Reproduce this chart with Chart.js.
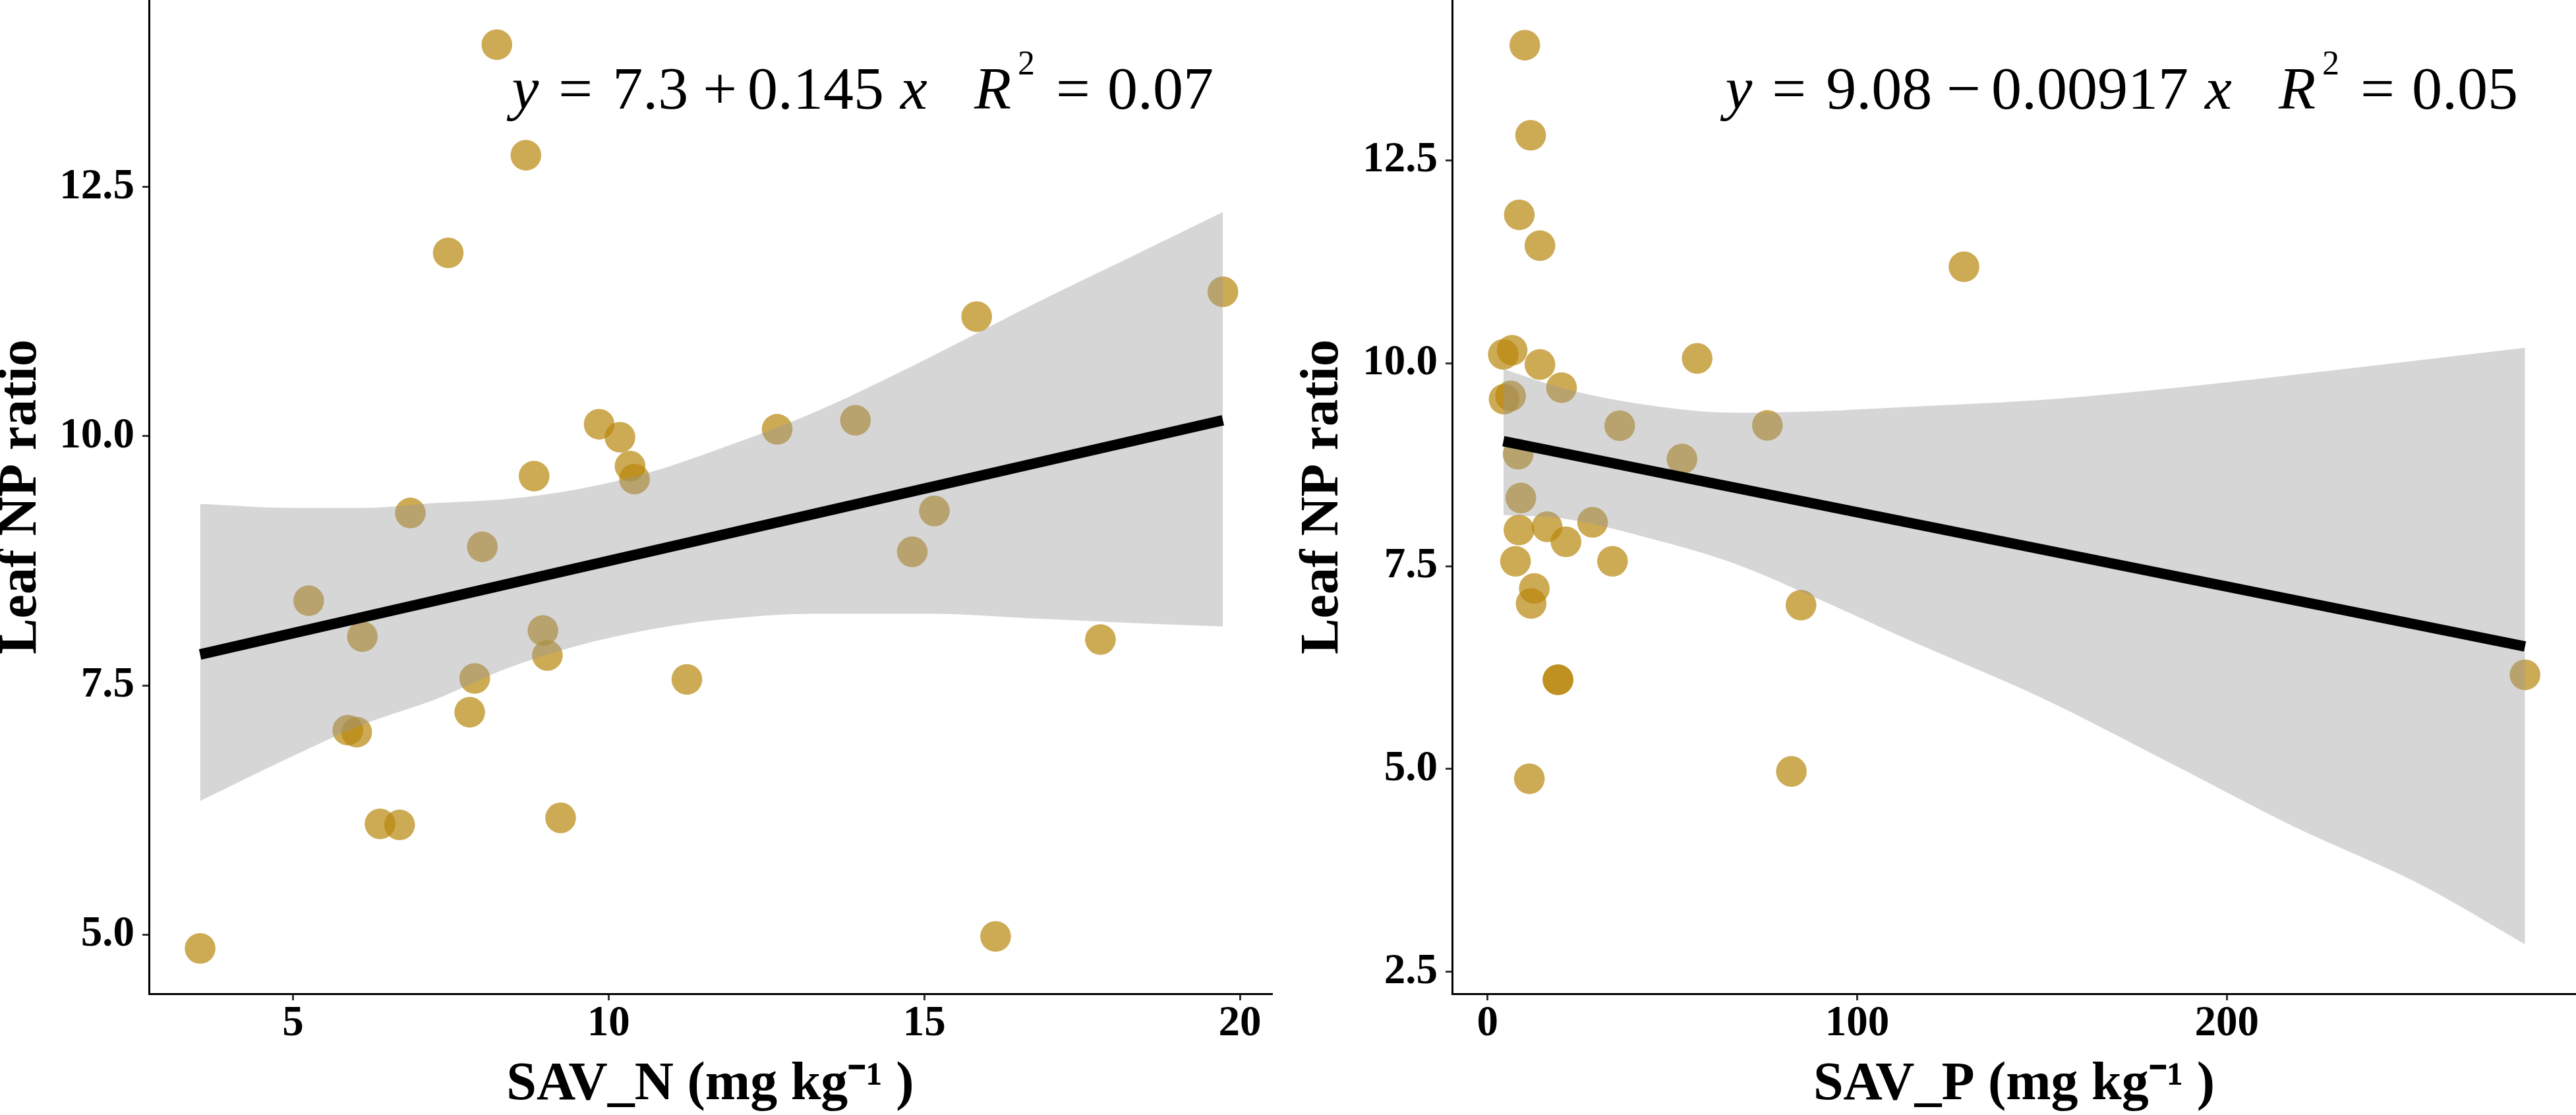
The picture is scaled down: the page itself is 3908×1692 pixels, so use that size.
<!DOCTYPE html>
<html>
<head>
<meta charset="utf-8">
<script src="https://cdn.jsdelivr.net/npm/chart.js@4.4.1/dist/chart.umd.min.js"></script>
<style>
  html, body { margin: 0; padding: 0; background: #fff; }
  #wrap { position: relative; width: 3908px; height: 1692px; }
  canvas { position: absolute; top: 0; }
  #grafico_n { left: 0; }
  #grafico_p { left: 1954px; }
</style>
</head>
<body>
<div id="wrap">
  <canvas id="grafico_n" width="1954" height="1692"></canvas>
  <canvas id="grafico_p" width="1954" height="1692"></canvas>
</div>
<script>
// panel izquierdo: SAV_N vs Leaf NP
const savN = [3.53, 5.25, 5.87, 6.01, 6.10, 6.38, 6.69, 6.86, 7.46, 7.80, 7.88, 8.00, 8.23, 8.69, 8.82, 8.96,
              9.03, 9.24, 9.85, 10.18, 10.34, 10.41, 11.24, 12.67, 13.91, 14.81, 15.16, 15.83, 16.13, 17.79, 19.73]
const npN  = [4.86, 8.35, 7.05, 7.03, 7.99, 6.11, 6.10, 9.23, 11.84, 7.23, 7.57, 8.89, 13.93, 12.82, 9.60, 8.05,
              7.80, 6.17, 10.12, 9.99, 9.70, 9.57, 7.56, 10.07, 10.16, 8.84, 9.25, 11.20, 4.98, 7.96, 11.45]
// banda de confianza
const bandaXN   = [3.53, 5.0, 6.12, 7.26, 8.39, 9.52, 10.66, 11.61, 13.33, 15.05, 16.78, 18.5, 19.73]
const bandaSupN = [9.32, 9.28, 9.28, 9.33, 9.37, 9.47, 9.64, 9.84, 10.26, 10.78, 11.34, 11.87, 12.25]
const bandaInfN = [6.34, 6.79, 7.11, 7.36, 7.67, 7.90, 8.06, 8.15, 8.22, 8.22, 8.17, 8.12, 8.09]
const rectaXN = [3.53, 19.73]
const rectaYN = [7.81, 10.16]
const ticksXN = [5, 10, 15, 20]
const ticksYN = [5.0, 7.5, 10.0, 12.5]

// panel derecho: SAV_P vs Leaf NP
const savP = [10.07, 11.64, 8.57, 14.16, 56.7, 4.25, 6.64, 14.16, 20.0, 4.46, 6.23, 35.75, 75.7, 8.27, 52.6, 9.0,
              8.48, 16.1, 21.2, 28.4, 7.54, 33.8, 12.64, 11.77, 84.8, 19.05, 19.05, 11.3, 82.2, 128.9, 280.7]
const npP  = [13.92, 12.81, 11.83, 11.45, 10.06, 10.11, 10.16, 9.985, 9.70, 9.557, 9.597, 9.23, 9.235, 8.88, 8.82, 8.34,
              7.945, 7.985, 7.80, 8.04, 7.56, 7.56, 7.225, 7.04, 7.02, 6.10, 6.10, 4.88, 4.97, 11.19, 6.16]
const bandaXP   = [4.27, 21.4, 44.1, 66.9, 89.7, 112.5, 150.2, 184.4, 218.6, 252.7, 280.7]
const bandaSupP = [9.93, 9.68, 9.48, 9.39, 9.41, 9.46, 9.55, 9.69, 9.86, 10.04, 10.19]
const bandaInfP = [8.13, 8.08, 7.84, 7.53, 7.09, 6.62, 5.87, 5.08, 4.28, 3.57, 2.84]
const rectaXP = [4.27, 280.7]
const rectaYP = [9.04, 6.51]
const ticksXP = [0, 100, 200]
const ticksYP = [2.5, 5.0, 7.5, 10.0, 12.5]

const ecuacionN = [{t: 'y', it: true}, {t: '='}, {t: '7.3'}, {t: '+'}, {t: '0.145'}, {t: 'x', it: true},
                   {t: 'R', it: true}, {t: '2', sup: true}, {t: '='}, {t: '0.07'}]
const ecuacionP = [{t: 'y', it: true}, {t: '='}, {t: '9.08'}, {t: '\u2212'}, {t: '0.00917'}, {t: 'x', it: true},
                   {t: 'R', it: true}, {t: '2', sup: true}, {t: '='}, {t: '0.05'}]

const FUENTE = 'Liberation Serif'

// texto de la ecuacion arriba a la derecha
const pluginEcuacion = {
    id: 'ecuacion',
    afterDraw(chart, args, opts) {
        const c = chart.ctx
        const area = chart.chartArea
        const huecos = [30, 30, 22, 16, 25, 71, 10, 32, 26]
        const fuente = p => (p.it ? 'italic ' : '') + (p.sup ? 52 : 92) + 'px "' + FUENTE + '"'
        c.save()
        c.fillStyle = '#000'
        c.textAlign = 'left'
        c.textBaseline = 'alphabetic'
        let total = 0
        opts.piezas.forEach((p, i) => {
            c.font = fuente(p)
            total += c.measureText(p.t).width + (i ? huecos[i - 1] : 0)
        })
        let x = area.right - 88 - total
        const base = area.top + 165
        opts.piezas.forEach((p, i) => {
            if (i) x += huecos[i - 1]
            c.font = fuente(p)
            c.fillText(p.t, x, p.sup ? base - 52 : base)
            x += c.measureText(p.t).width
        })
        c.restore()
    }
}

graficoDispersion('grafico_n', savN, npN, bandaXN, bandaSupN, bandaInfN, rectaXN, rectaYN,
    {xmin: 2.72, xmax: 20.5, ymin: 4.405, ymax: 14.378, ticksX: ticksXN, ticksY: ticksYN,
     tituloX: 'SAV_N (mg kg\u207B\u00B9 )', anchoY: 226, padDer: 25, padTitulo: 2, ecuacion: ecuacionN})

graficoDispersion('grafico_p', savP, npP, bandaXP, bandaSupP, bandaInfP, rectaXP, rectaYP,
    {xmin: -9.6, xmax: 294.5, ymin: 2.23, ymax: 14.477, ticksX: ticksXP, ticksY: ticksYP,
     tituloX: 'SAV_P (mg kg\u207B\u00B9 )', anchoY: 249, padDer: 0, padTitulo: 23.5, ecuacion: ecuacionP})

function graficoDispersion(id, px, py, bx, bsup, binf, rx, ry, cfg) {
    const ctx = document.getElementById(id).getContext('2d')
    const pares = (xs, ys) => xs.map((v, i) => ({x: v, y: ys[i]}))

    const data = {
        datasets: [
            {   // recta de regresion
                type: 'line', data: pares(rx, ry), borderColor: '#000', borderWidth: 16,
                pointRadius: 0, fill: false, order: 0
            },
            {   // borde superior de la banda
                type: 'line', data: pares(bx, bsup), borderWidth: 0, borderColor: 'rgba(0,0,0,0)',
                pointRadius: 0, fill: '+1', backgroundColor: 'rgba(153,153,153,0.4)',
                cubicInterpolationMode: 'monotone', order: 1
            },
            {   // borde inferior
                type: 'line', data: pares(bx, binf), borderWidth: 0, borderColor: 'rgba(0,0,0,0)',
                pointRadius: 0, fill: false, cubicInterpolationMode: 'monotone', order: 1
            },
            {   // puntos
                type: 'scatter', data: pares(px, py), pointRadius: 23.3, pointHoverRadius: 23.3,
                backgroundColor: 'rgba(184,134,11,0.7)', borderWidth: 0, order: 2
            }
        ]
    }

    const ejeGrid = {display: true, drawOnChartArea: false, drawTicks: true, tickLength: 10,
                     tickWidth: 3, lineWidth: 3, tickColor: '#333'}
    const ejeBorde = {display: true, color: '#000', width: 3}

    const options = {
        responsive: false,
        animation: false,
        devicePixelRatio: 1,
        events: [],
        layout: {autoPadding: false, padding: {left: 0, right: cfg.padDer, top: 0, bottom: 0}},
        plugins: {
            legend: {display: false},
            tooltip: {enabled: false},
            ecuacion: {piezas: cfg.ecuacion}
        },
        scales: {
            x: {
                type: 'linear', min: cfg.xmin, max: cfg.xmax,
                afterBuildTicks: s => { s.ticks = cfg.ticksX.map(v => ({value: v})) },
                afterFit: s => { s.height = 184; s.paddingLeft = 0; s.paddingRight = 0 },
                border: ejeBorde, grid: ejeGrid,
                ticks: {
                    color: '#000', padding: 0, maxRotation: 0, autoSkip: false,
                    font: {family: FUENTE, weight: 'bold', size: 65, lineHeight: 1.1},
                    callback: v => String(v)
                },
                title: {
                    display: true, text: cfg.tituloX, color: '#000',
                    font: {family: FUENTE, weight: 'bold', size: 82, lineHeight: 0.75},
                    padding: {top: 0, bottom: 14.5}
                }
            },
            y: {
                type: 'linear', min: cfg.ymin, max: cfg.ymax,
                afterBuildTicks: s => { s.ticks = cfg.ticksY.map(v => ({value: v})) },
                afterFit: s => { s.width = cfg.anchoY; s.paddingTop = 0; s.paddingBottom = 0 },
                border: ejeBorde, grid: ejeGrid,
                ticks: {
                    color: '#000', padding: 12, autoSkip: false,
                    font: {family: FUENTE, weight: 'bold', size: 65},
                    callback: v => v.toFixed(1)
                },
                title: {
                    display: true, text: 'Leaf NP ratio', color: '#000',
                    font: {family: FUENTE, weight: 'bold', size: 82, lineHeight: 0.75},
                    padding: {top: cfg.padTitulo, bottom: 0}
                }
            }
        }
    }

    return new Chart(ctx, {type: 'scatter', data, options, plugins: [pluginEcuacion]})
}
</script>
</body>
</html>
